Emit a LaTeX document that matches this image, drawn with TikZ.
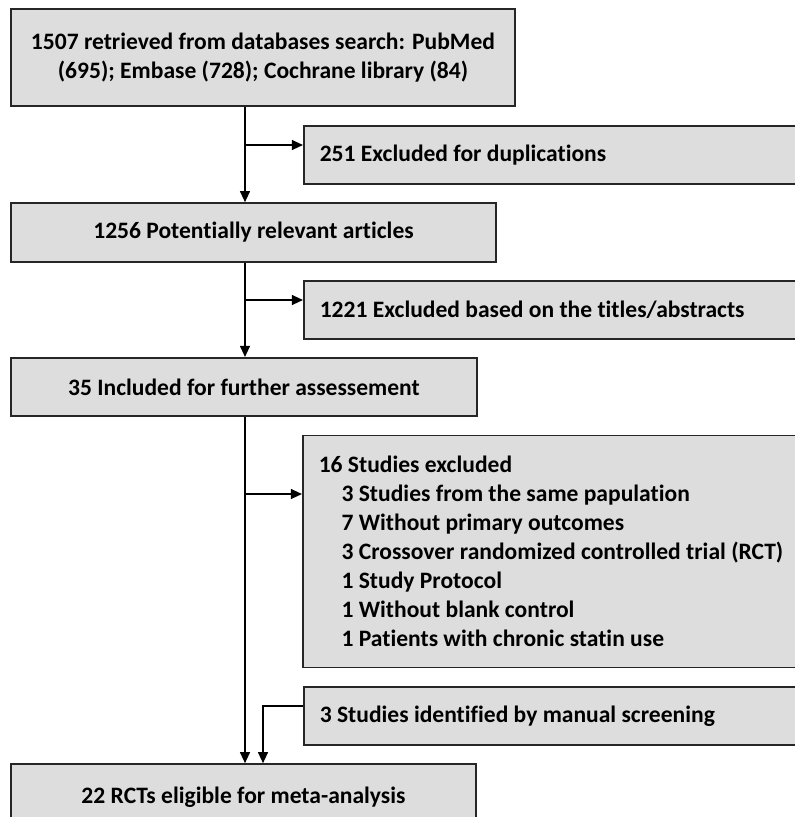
\documentclass[tikz,border=0pt]{standalone}
\usepackage{fontspec}
\setmainfont{Carlito}[Ligatures={NoCommon}]
\usetikzlibrary{arrows.meta}

\definecolor{boxgray}{RGB}{221,221,221}
\tikzset{
  box/.style={draw=black!85, fill=boxgray, line width=1.1pt, rectangle,
    font=\bfseries\fontsize{16.75}{20.6}\selectfont,
    execute at begin node={\spaceskip=0pt\xspaceskip=0pt}},
  mainbox/.style={box, align=center},
  sidebox/.style={box, anchor=west, align=left, inner xsep=0.4cm, text width=12cm, minimum height=1.45cm},
  arr/.style={line width=1.1pt, -{Triangle[length=0.28cm,width=0.25cm]}},
}

\begin{document}
\begin{tikzpicture}[x=0.025cm, y=-0.025cm]
  \useasboundingbox (0,0) rectangle (795,817);
  \node[mainbox, minimum width=12.6cm, minimum height=2.425cm] (search) at (263,57.5)
    {1507 retrieved from databases search: PubMed\\(695); Embase (728); Cochrane library (84)};
  \node[sidebox] (dupl) at (303,155) {251 Excluded for duplications};
  \node[mainbox, minimum width=12.125cm, minimum height=1.475cm] (relevant) at (253.5,232.5)
    {1256 Potentially relevant articles};
  \node[sidebox] (titles) at (303,310) {1221 Excluded based on the titles/abstracts};
  \node[mainbox, minimum width=11.65cm, minimum height=1.4625cm] (further) at (244,387)
    {35 Included for further assessement};
  \node[sidebox, minimum height=5.8cm] (excl) at (302,551.6)
    {16 Studies excluded\\
     \hspace*{0.57cm}3 Studies from the same papulation\\
     \hspace*{0.57cm}7 Without primary outcomes\\
     \hspace*{0.57cm}3 Crossover randomized controlled trial (RCT)\\
     \hspace*{0.57cm}1 Study Protocol\\
     \hspace*{0.57cm}1 Without blank control\\
     \hspace*{0.57cm}1 Patients with chronic statin use};
  \node[sidebox] (manual) at (303,716) {3 Studies identified by manual screening};
  \node[mainbox, minimum width=11.625cm, minimum height=1.65cm] (eligible) at (243.5,797)
    {22 RCTs eligible for meta-analysis};

  \coordinate (j1) at (245,145);
  \coordinate (j2) at (245,300);
  \coordinate (j3) at (245,494);
  \coordinate (k) at (263,706);

  \draw[arr] (j1 |- search.south) -- (j1 |- relevant.north);
  \draw[arr] (j1) -- (j1 -| dupl.west);
  \draw[arr] (j2 |- relevant.south) -- (j2 |- further.north);
  \draw[arr] (j2) -- (j2 -| titles.west);
  \draw[arr] (j3 |- further.south) -- (j3 |- eligible.north);
  \draw[arr] (j3) -- (j3 -| excl.west);
  \draw[arr] (k -| manual.west) -- (k) -- (k |- eligible.north);
\end{tikzpicture}
\end{document}
